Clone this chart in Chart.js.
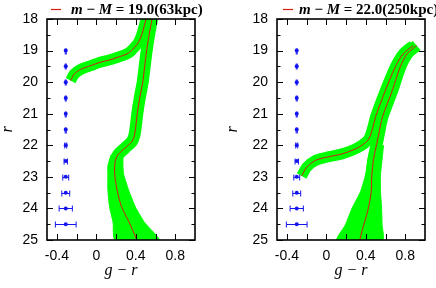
<!DOCTYPE html>
<html>
<head>
<meta charset="utf-8">
<script src="https://cdn.jsdelivr.net/npm/chart.js"></script>
<style>
  body { margin: 0; background: #fff; }
  #wrap { position: relative; width: 436px; height: 288px; }
  canvas { position: absolute; top: 0; }
</style>
</head>
<body>
<div id="wrap">
  <canvas id="left" width="218" height="288" style="left:0"></canvas>
  <canvas id="right" width="218" height="288" style="left:218px"></canvas>
</div>
<script>
// tick labels
const xTickLabels = [-0.4, 0, 0.4, 0.8]
const xTickMarks = [-0.4, -0.2, 0, 0.2, 0.4, 0.6, 0.8]
const yTickLabels = [18, 19, 20, 21, 22, 23, 24, 25]
const yMinorMarks = [18.5, 19.5, 20.5, 21.5, 22.5, 23.5, 24.5]

// observed photometric errors (blue points)
const obsR = [19, 19.5, 20, 20.5, 21, 21.5, 22, 22.5, 23, 23.5, 24, 24.5]
const obsErr = [0.005, 0.005, 0.005, 0.005, 0.005, 0.006, 0.01, 0.017, 0.03, 0.04, 0.067, 0.105]
const obsX1 = [-0.31, -0.31, -0.31, -0.31, -0.31, -0.31, -0.31, -0.31, -0.31, -0.31, -0.31, -0.31]
const obsX2 = [-0.30, -0.30, -0.30, -0.30, -0.30, -0.30, -0.30, -0.30, -0.30, -0.30, -0.30, -0.30]

// panel 1: m-M = 19.0 (63 kpc)
const rgb1R = [18.0, 18.5, 19.0, 19.5, 20.0, 20.5, 21.0, 21.4, 21.7, 21.88, 22.09, 22.3, 22.52, 22.88, 23.41, 23.94, 24.36, 24.7, 25.0]
const rgb1X = [0.565, 0.535, 0.51, 0.49, 0.47, 0.44, 0.415, 0.40, 0.385, 0.36, 0.29, 0.22, 0.19, 0.185, 0.21, 0.255, 0.32, 0.37, 0.41]
const hb1R = [18.0, 18.5, 18.75, 18.9, 19.02, 19.12, 19.22, 19.30, 19.38, 19.47, 19.6, 19.75, 19.95]
const hb1X = [0.505, 0.46, 0.425, 0.385, 0.35, 0.30, 0.21, 0.13, 0.03, -0.05, -0.16, -0.225, -0.26]
const ms1R = [22.3, 22.65, 22.9, 23.4, 23.95, 24.45, 25.0]
const ms1Lo = [0.15, 0.117, 0.117, 0.117, 0.134, 0.17, 0.19]
const ms1Hi = [0.27, 0.27, 0.275, 0.325, 0.395, 0.49, 0.635]

// panel 2: m-M = 22.0 (250 kpc)
const rgb2R = [18.84, 19.1, 19.51, 20.25, 21.09, 21.35, 21.83, 22.41, 23.0, 23.47, 24.07, 24.73, 25.0]
const rgb2X = [0.915, 0.82, 0.75, 0.67, 0.57, 0.55, 0.52, 0.48, 0.46, 0.455, 0.42, 0.36, 0.34]
const hb2R = [18.84, 19.1, 19.51, 20.25, 21.09, 21.45, 21.8, 22.0, 22.15, 22.28, 22.38, 22.48, 22.7, 22.97]
const hb2X = [0.88, 0.78, 0.70, 0.60, 0.50, 0.47, 0.43, 0.36, 0.27, 0.15, 0.0, -0.11, -0.20, -0.25]
const ms2R = [22.0, 22.41, 22.94, 23.47, 23.99, 24.52, 25.0]
const ms2Lo = [0.46, 0.424, 0.397, 0.346, 0.261, 0.193, 0.109]
const ms2Hi = [0.58, 0.566, 0.549, 0.549, 0.56, 0.565, 0.57]

const distMod = ['19.0', '22.0']
const distKpc = ['63', '250']

const GREEN = '#00ff00'
const RED = '#d81a10'
const BLUE = '#1515f0'

function toPts (xs, rs) { return xs.map((x, i) => ({ x, y: rs[i] })) }
function bandPts (lo, hi, rs) { return [...toPts(lo, rs), ...toPts(hi, rs).reverse()] }

// frame + inward ticks on all four sides
const framePlugin = {
  id: 'frame',
  afterDatasetsDraw (chart) {
    const { ctx, chartArea: a, scales: { x, y } } = chart
    ctx.save()
    ctx.strokeStyle = '#000'
    ctx.lineWidth = 1
    ctx.beginPath()
    xTickMarks.forEach(v => {
      const px = Math.round(x.getPixelForValue(v)) + 0.5
      ctx.moveTo(px, a.top); ctx.lineTo(px, a.top + 6)
      ctx.moveTo(px, a.bottom); ctx.lineTo(px, a.bottom - 6)
    })
    yTickLabels.forEach(v => {
      const py = Math.round(y.getPixelForValue(v)) + 0.5
      ctx.moveTo(a.left, py); ctx.lineTo(a.left + 6, py)
      ctx.moveTo(a.right, py); ctx.lineTo(a.right - 6, py)
    })
    yMinorMarks.forEach(v => {
      const py = Math.round(y.getPixelForValue(v)) + 0.5
      ctx.moveTo(a.left, py); ctx.lineTo(a.left + 3.5, py)
      ctx.moveTo(a.right, py); ctx.lineTo(a.right - 3.5, py)
    })
    ctx.stroke()
    ctx.lineWidth = 1.6
    ctx.strokeRect(a.left, a.top, a.right - a.left, a.bottom - a.top)
    ctx.restore()
  }
}

// horizontal error bars for the blue points
const errPlugin = {
  id: 'errbars',
  afterDatasetsDraw (chart, args, opts) {
    const { ctx, scales: { x, y } } = chart
    ctx.save()
    ctx.strokeStyle = BLUE
    ctx.lineWidth = 1
    ctx.beginPath()
    opts.xs.forEach((v, i) => {
      const py = Math.round(y.getPixelForValue(opts.rs[i])) + 0.5
      const x0 = x.getPixelForValue(v - opts.errs[i])
      const x1 = x.getPixelForValue(v + opts.errs[i])
      ctx.moveTo(x0, py); ctx.lineTo(x1, py)
      ctx.moveTo(x0, py - 3); ctx.lineTo(x0, py + 3)
      ctx.moveTo(x1, py - 3); ctx.lineTo(x1, py + 3)
    })
    ctx.stroke()
    ctx.restore()
  }
}

// legend: red line sample + "m − M = 19.0(63kpc)"
const keyPlugin = {
  id: 'key',
  afterDraw (chart, args, opts) {
    const { ctx, chartArea: a } = chart
    const x0 = a.left + opts.dx
    ctx.save()
    ctx.strokeStyle = RED
    ctx.lineWidth = 1.2
    ctx.beginPath()
    ctx.moveTo(x0, 9.5); ctx.lineTo(x0 + 10, 9.5)
    ctx.stroke()
    const parts = [
      ['m', 'italic bold'], [' \u2212 ', 'bold'], ['M', 'italic bold'],
      [' = ' + opts.dm + '(' + opts.kpc + 'kpc)', 'bold']
    ]
    ctx.fillStyle = '#000'
    ctx.textBaseline = 'alphabetic'
    let tx = x0 + opts.gap
    parts.forEach(([t, st]) => {
      ctx.font = st + ' 15px "Liberation Serif", serif'
      ctx.fillText(t, tx, 14)
      tx += ctx.measureText(t).width
    })
    ctx.restore()
  }
}

function makePanel (id, p) {
  const tickFont = { family: '"Liberation Sans", Arial, sans-serif', size: 14 }
  const titleFont = { family: '"Liberation Serif", serif', style: 'italic', size: 16, lineHeight: 1 }
  return new Chart(document.getElementById(id), {
    type: 'scatter',
    data: {
      datasets: [
        { data: toPts(p.obsX, obsR), pointRadius: 2, pointBackgroundColor: BLUE, pointBorderWidth: 0, order: 1 },
        { data: toPts(p.rgbX, p.rgbR), showLine: true, borderColor: RED, borderWidth: 1, pointRadius: 0, tension: 0.3, clip: 0, order: 2 },
        { data: toPts(p.hbX, p.hbR), showLine: true, borderColor: RED, borderWidth: 1, pointRadius: 0, tension: 0.3, clip: 0, order: 2 },
        { data: toPts(p.rgbX, p.rgbR), showLine: true, borderColor: GREEN, borderWidth: 12, pointRadius: 0, tension: 0.3, clip: 0, order: 3 },
        { data: toPts(p.hbX, p.hbR), showLine: true, borderColor: GREEN, borderWidth: 11, pointRadius: 0, tension: 0.3, clip: 0, order: 3 },
        { data: bandPts(p.msLo, p.msHi, p.msR), showLine: true, fill: 'shape', borderColor: GREEN, backgroundColor: GREEN, borderWidth: 1, pointRadius: 0, tension: 0.2, clip: 0, order: 4 }
      ]
    },
    options: {
      responsive: false,
      animation: false,
      events: [],
      layout: { padding: { left: 0, right: p.padRight, top: 19, bottom: 0 } },
      plugins: {
        legend: { display: false },
        tooltip: { enabled: false },
        errbars: { xs: p.obsX, rs: obsR, errs: obsErr },
        key: { dm: p.dm, kpc: p.kpc, dx: p.keyDx, gap: p.keyGap }
      },
      scales: {
        x: {
          type: 'linear',
          min: -0.5,
          max: 1.0,
          afterBuildTicks: s => { s.ticks = xTickLabels.map(v => ({ value: v })) },
          afterFit: s => { s.height = 48 },
          grid: { display: false, drawTicks: false },
          border: { display: false },
          ticks: { color: '#000', font: tickFont, padding: 8, maxRotation: 0, callback: v => (v === 0 ? '0' : v.toFixed(1)) },
          title: { display: true, text: 'g \u2212 r', color: '#000', font: titleFont, padding: { top: 0, bottom: 9 } }
        },
        y: {
          type: 'linear',
          reverse: true,
          min: 18,
          max: 25,
          afterBuildTicks: s => { s.ticks = yTickLabels.map(v => ({ value: v })) },
          afterFit: s => { s.width = p.padLeft },
          grid: { display: false, drawTicks: false },
          border: { display: false },
          ticks: { color: '#000', font: tickFont, padding: 9, callback: v => String(v) },
          title: { display: true, text: 'r', color: '#000', font: titleFont, padding: { top: p.rTitlePad, bottom: 0 } }
        }
      }
    },
    plugins: [framePlugin, errPlugin, keyPlugin]
  })
}

makePanel('left', {
  obsX: obsX1, rgbX: rgb1X, rgbR: rgb1R, hbX: hb1X, hbR: hb1R,
  msR: ms1R, msLo: ms1Lo, msHi: ms1Hi,
  dm: distMod[0], kpc: distKpc[0],
  padLeft: 47, padRight: 23, rTitlePad: 0, keyDx: 4, keyGap: 20
})
makePanel('right', {
  obsX: obsX2, rgbX: rgb2X, rgbR: rgb2R, hbX: hb2X, hbR: hb2R,
  msR: ms2R, msLo: ms2Lo, msHi: ms2Hi,
  dm: distMod[1], kpc: distKpc[1],
  padLeft: 59, padRight: 11, rTitlePad: 7, keyDx: 6, keyGap: 16
})
</script>
</body>
</html>
